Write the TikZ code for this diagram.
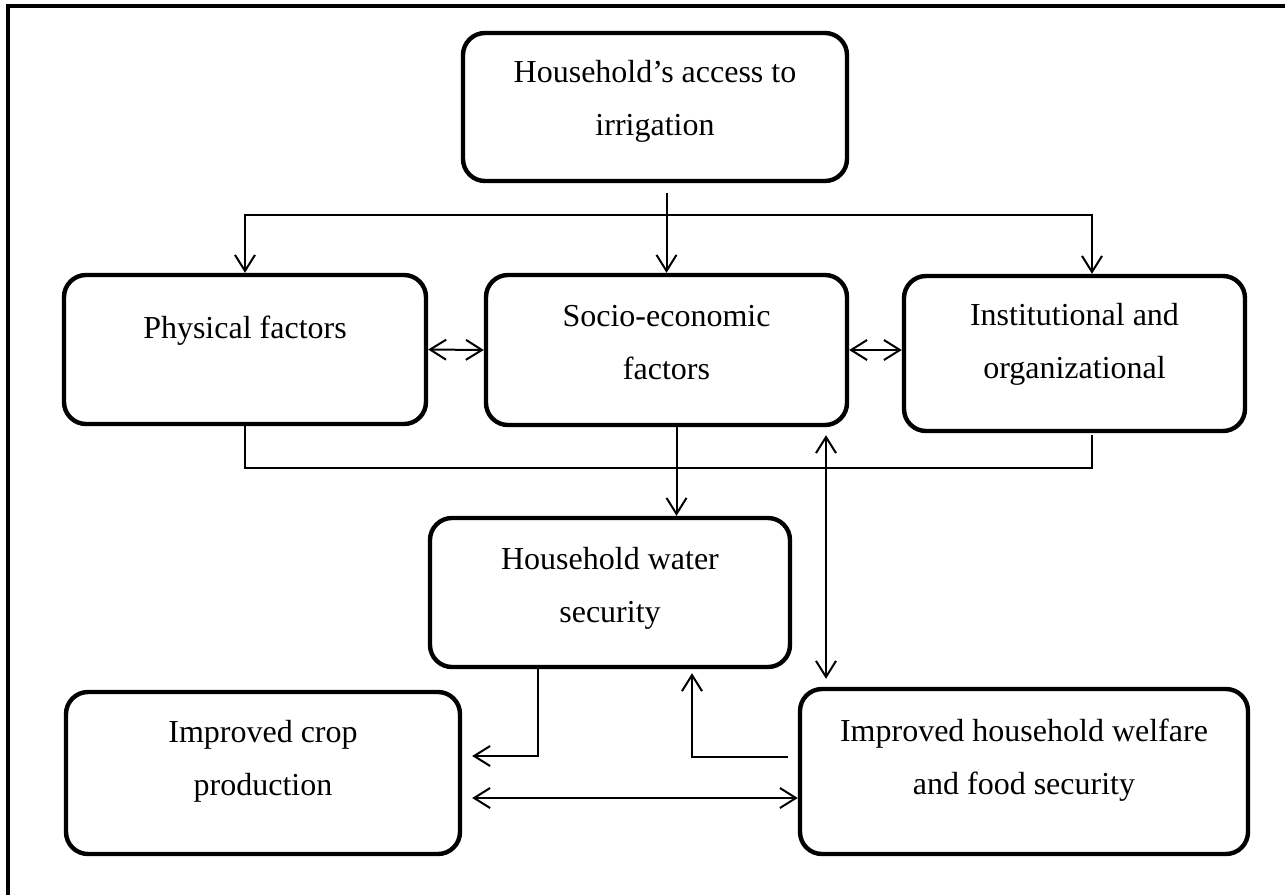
\documentclass[tikz,border=0pt]{standalone}
\usepackage{fontspec}
\setmainfont{Liberation Serif}
\usetikzlibrary{arrows.meta}

\tikzset{
    box/.style={draw, line width=2.2pt, rounded corners=11pt, align=center,
        inner sep=0pt, font=\fontsize{16}{26.5}\selectfont},
    lift/.style={text depth=#1},
    link/.style={line width=1pt, -{Straight Barb[length=8pt,width=10pt]}},
    twoway/.style={line width=1pt,
        {Straight Barb[length=8pt,width=10pt]}-{Straight Barb[length=8pt,width=10pt]}},
    plain/.style={line width=1pt}
}

\begin{document}
\begin{tikzpicture}[x=0.5pt, y=-0.5pt]
    \useasboundingbox (0,0) rectangle (1285,895);
    % open frame
    \draw[line width=1.6pt] (8,895) -- (8,6) -- (1285,6);

    % boxes
    \node[box, lift=9.5pt, minimum width=192pt, minimum height=74pt] (access) at (655,107)
        {Household's access to\\irrigation};
    \node[box, lift=22pt, minimum width=181pt, minimum height=74.5pt] (phys) at (245,349.5)
        {Physical factors};
    \node[box, lift=7.8pt, minimum width=180.5pt, minimum height=75pt] (soc) at (666.5,350)
        {Socio-economic\\factors};
    \node[box, lift=12.8pt, minimum width=170.5pt, minimum height=77.5pt] (inst) at (1074.5,353.5)
        {Institutional and\\organizational};
    \node[box, lift=8pt, minimum width=180pt, minimum height=74.5pt] (water) at (610,592.5)
        {Household water\\security};
    \node[box, lift=14.8pt, minimum width=197pt, minimum height=81pt] (crop) at (263,773)
        {Improved crop\\production};
    \node[box, lift=14.8pt, minimum width=224pt, minimum height=82.5pt] (welf) at (1024,771.5)
        {Improved household welfare\\and food security};

    % helper points
    \coordinate (busR) at (1092,215);
    \coordinate (baseR) at (1092,468);
    \coordinate (spine) at (826,560);
    \coordinate (turnA) at (538,756);
    \coordinate (turnB) at (692,757);
    \coordinate (lowrow) at (0,798);

    % from access to the three factor groups
    \draw[link] ([yshift=-5pt]access.south -| soc.north) -- (soc.north);
    \draw[twoway] (phys.north) |- (busR) -- (busR |- inst.north);
    \draw[twoway] (phys.east) -- (soc.west);
    \draw[twoway] (soc.east) -- (soc.east -| inst.west);

    % factors to water security
    \draw[plain] (phys.south) |- (baseR) -- ([yshift=-1pt]baseR |- inst.south);
    \draw[link] ([xshift=5pt]soc.south) -- ([xshift=5pt]soc.south |- water.north);
    \draw[twoway] ([yshift=-4pt]soc.south -| spine) -- ([yshift=4pt]welf.north -| spine);

    % outcomes
    \draw[link] (water.south -| turnA) |- ([xshift=5pt]crop.east |- turnA);
    \draw[link] ([xshift=-5pt]welf.west |- turnB) -| ([yshift=-2pt]turnB |- water.south);
    \draw[twoway] ([xshift=5pt]crop.east |- lowrow) -- (welf.west |- lowrow);
\end{tikzpicture}
\end{document}
